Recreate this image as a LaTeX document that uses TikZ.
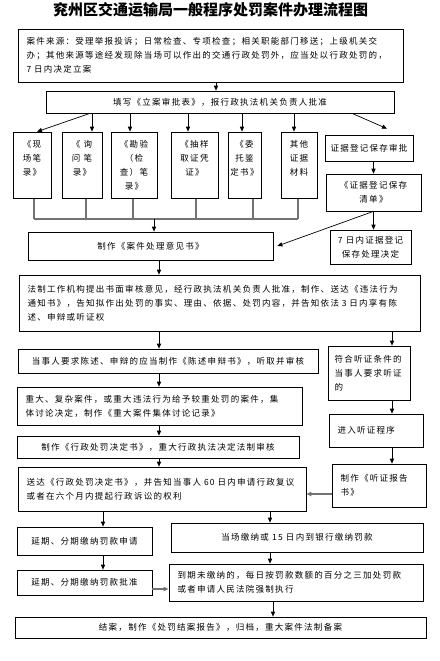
\documentclass[tikz,border=0pt]{standalone}
\usepackage{fontspec}
\setmainfont{Noto Sans CJK SC}[LetterSpace=15]
\newfontfamily\titlefont{Noto Sans CJK SC}
\usetikzlibrary{arrows.meta}

\begin{document}
\begin{tikzpicture}[
		x=1pt, y=-1pt,
		box/.style={draw, line width=0.7pt, inner sep=0pt, align=center, font=\fontsize{8.5}{14}\selectfont},
		lbox/.style={box, align=left, inner xsep=8.5pt},
		bus/.style={draw=black!55, line width=1.2pt},
		arr/.style={->, line width=0.7pt},
		>={Triangle[length=5pt,width=4.2pt]}
	]
		\useasboundingbox (0,0) rectangle (439,661);

		% ===== TITLE =====
		\node[font=\titlefont\bfseries\fontsize{15}{15}\selectfont] (title) at (210.5,10) {兖州区交通运输局一般程序处罚案件办理流程图};

		% ===== FILING =====
		\node[lbox, text width=368pt, minimum height=53pt] (src) at (210.5,55.5)
			{案件来源：受理举报投诉；日常检查、专项检查；相关职能部门移送；上级机关交\\
			 办；其他来源等途经发现除当场可以作出的交通行政处罚外，应当处以行政处罚的，\\
			 7~日内决定立案};
		\node[box, minimum width=348pt, minimum height=22pt] (fill) at (220,102) {填写《立案审批表》，报行政执法机关负责人批准};
		\draw[arr] ([xshift=5.5pt]src.south) -- ([xshift=5.5pt]src.south |- fill.north);

		% Evidence records
		\node[box, minimum width=38pt, minimum height=66.5pt] (rec1) at (32,165.25) {《现\\场笔\\录》\\\mbox{}};
		\node[box, minimum width=40pt, minimum height=66.5pt] (rec2) at (82,165.25) {《~询\\问~笔\\录》\\\mbox{}};
		\node[box, minimum width=46pt, minimum height=66.5pt] (rec3) at (134,165.25) {《勘验\\（检\\查）笔\\录》};
		\node[box, minimum width=47pt, minimum height=66.5pt] (rec4) at (194.5,165.25) {《抽样\\取证凭\\证》\\\mbox{}};
		\node[box, minimum width=33pt, minimum height=66.5pt] (rec5) at (244.5,165.25) {《委\\托鉴\\定书》\\\mbox{}};
		\node[box, minimum width=36pt, minimum height=66.5pt] (rec6) at (299,165.25) {其他\\证据\\材料\\\mbox{}};

		\draw[arr] ([xshift=-130pt]fill.south) -- ([xshift=5pt]rec1.north);
		\draw[arr] ([xshift=10pt]rec2.north |- fill.south) -- ([xshift=10pt]rec2.north);
		\draw[arr] ([xshift=-4pt]rec3.north |- fill.south) -- ([xshift=-4pt]rec3.north);
		\draw[arr] ([xshift=-6.5pt]rec4.north |- fill.south) -- ([xshift=-6.5pt]rec4.north);
		\draw[arr] ([xshift=-2.5pt]rec5.north |- fill.south) -- ([xshift=-2.5pt]rec5.north);
		\draw[arr] ([xshift=-5pt]rec6.north |- fill.south) -- ([xshift=-5pt]rec6.north);

		% Evidence preservation
		\node[box, minimum width=88pt, minimum height=26pt] (apv) at (369,148) {证据登记保存审批};
		\node[box, minimum width=95pt, minimum height=37pt] (lst) at (373.5,192.5) {《证据登记保存\\清单》};
		\node[box, minimum width=81pt, minimum height=34pt] (dec7) at (370.5,247) {7~日内证据登记\\保存处理决定};
		\draw[arr] ([xshift=132pt]fill.south) -- ([xshift=18pt,yshift=6pt]apv.north);
		\draw[arr] (apv.south -| lst) -- (lst.north);
		\draw[arr] (lst.south) -- (lst.south |- dec7.north);

		% Collect records
		\coordinate (bus) at (154,219);
		\draw[bus] ([xshift=2pt]rec1.south) -- ([xshift=2pt]rec1.south |- bus);
		\draw[bus] ([xshift=4pt]rec2.south) -- ([xshift=4pt]rec2.south |- bus);
		\draw[bus] ([xshift=-1pt]rec3.south) -- ([xshift=-1pt]rec3.south |- bus);
		\draw[bus] ([xshift=1.5pt]rec4.south) -- ([xshift=1.5pt]rec4.south |- bus);
		\draw[bus] ([xshift=8.5pt]rec5.south) -- ([xshift=8.5pt]rec5.south |- bus);
		\draw[bus] ([xshift=-1pt]rec6.south) -- ([xshift=-1pt]rec6.south |- bus);
		\draw[bus] ([xshift=2pt]rec1.south |- bus) -- ([xshift=-1pt]rec6.south |- bus);

		% ===== OPINION AND NOTICE =====
		\coordinate (spine) at (159,0);
		\coordinate (rspine) at (392,0);
		\node[box, minimum width=245pt, minimum height=28pt] (opn) at (150.5,246) {制作《案件处理意见书》};
		\draw[arr] (bus) -- (bus |- opn.north);
		\draw[arr] (lst.south) -- ([xshift=4pt]opn.east);

		\node[lbox, text width=384pt, minimum height=56pt] (ntc) at (219.5,303)
			{法制工作机构提出书面审核意见，经行政执法机关负责人批准，制作、送达《违法行为\\
			 通知书》，告知拟作出处罚的事实、理由、依据、处罚内容，并告知依法~3~日内享有陈\\
			 述、申辩或听证权};
		\draw[arr] (opn.south -| spine) -- (ntc.north -| spine);

		% Statement / hearing
		\node[box, minimum width=300pt, minimum height=24pt] (stm) at (168,361) {当事人要求陈述、申辩的应当制作《陈述申辩书》，听取并审核};
		\node[lbox, inner xsep=6.5pt, text width=69pt, minimum height=54pt] (hrq) at (369,373) {符合听证条件的\\当事人要求听证\\的};
		\draw[arr] (ntc.south -| spine) -- (stm.north -| spine);
		\draw[arr] (ntc.south -| rspine) -- (hrq.north -| rspine);

		\node[lbox, text width=268pt, minimum height=38pt] (grp) at (159.5,406)
			{重大、复杂案件，或重大违法行为给予较重处罚的案件，集\\
			 体讨论决定，制作《重大案件集体讨论记录》};
		\node[lbox, text width=77pt, minimum height=33pt] (hrg) at (376,430.5) {进入听证程序};
		\draw[arr] (stm.south -| spine) -- (grp.north -| spine);
		\draw[arr] (hrq.south -| rspine) -- (hrg.north -| rspine);

		% ===== DECISION =====
		\node[box, minimum width=282pt, minimum height=22pt] (pdc) at (158,447) {制作《行政处罚决定书》，重大行政执法决定法制审核};
		\draw[arr] (grp.south -| spine) -- (pdc.north -| spine);

		\node[lbox, text width=271pt, minimum height=44pt] (dlv) at (162,489)
			{送达《行政处罚决定书》，并告知当事人~60~日内申请行政复议\\
			 或者在六个月内提起行政诉讼的权利};
		\node[lbox, text width=77pt, minimum height=43pt] (rpt) at (379,485.5) {制作《听证报告\\书》};
		\draw[arr] (pdc.south -| spine) -- (dlv.north -| spine);
		\draw[arr] (hrg.south -| rspine) -- (rpt.north -| rspine);
		\draw[bus, ->] ([yshift=-8.5pt]rpt.west) -- ([yshift=-8.5pt]rpt.west -| dlv.east);

		% ===== PAYMENT =====
		\coordinate (lspine) at (103,0);
		\coordinate (mspine) at (270,0);
		\node[box, minimum width=135pt, minimum height=28pt] (appl) at (84.5,541) {延期、分期缴纳罚款申请};
		\node[box, minimum width=252pt, minimum height=29pt] (pay) at (297,537.5) {当场缴纳或~15~日内到银行缴纳罚款};
		\draw[arr] (dlv.south -| lspine) -- (appl.north -| lspine);
		\draw[arr] (dlv.south -| mspine) -- (pay.north -| mspine);

		\node[box, minimum width=135pt, minimum height=25pt] (appr) at (84.5,582.5) {延期、分期缴纳罚款批准};
		\node[lbox, text width=237pt, minimum height=37pt] (ovd) at (296,582.5)
			{到期未缴纳的，每日按罚款数额的百分之三加处罚款\\
			 或者申请人民法院强制执行};
		\draw[arr] (appl.south -| lspine) -- (appr.north -| lspine);
		\draw[arr] (pay.south -| mspine) -- (ovd.north -| mspine);
		\draw[bus, ->] ([yshift=-6.5pt]appr.east) -- ([yshift=-6.5pt]appr.east -| ovd.west);

		% Close
		\node[box, minimum width=411pt, minimum height=21pt] (cls) at (220.5,627.5) {结案，制作《处罚结案报告》，归档，重大案件法制备案};
		\draw[arr] ([xshift=3pt]ovd.south -| mspine) -- ([xshift=3pt]cls.north -| mspine);
	\end{tikzpicture}
\end{document}
